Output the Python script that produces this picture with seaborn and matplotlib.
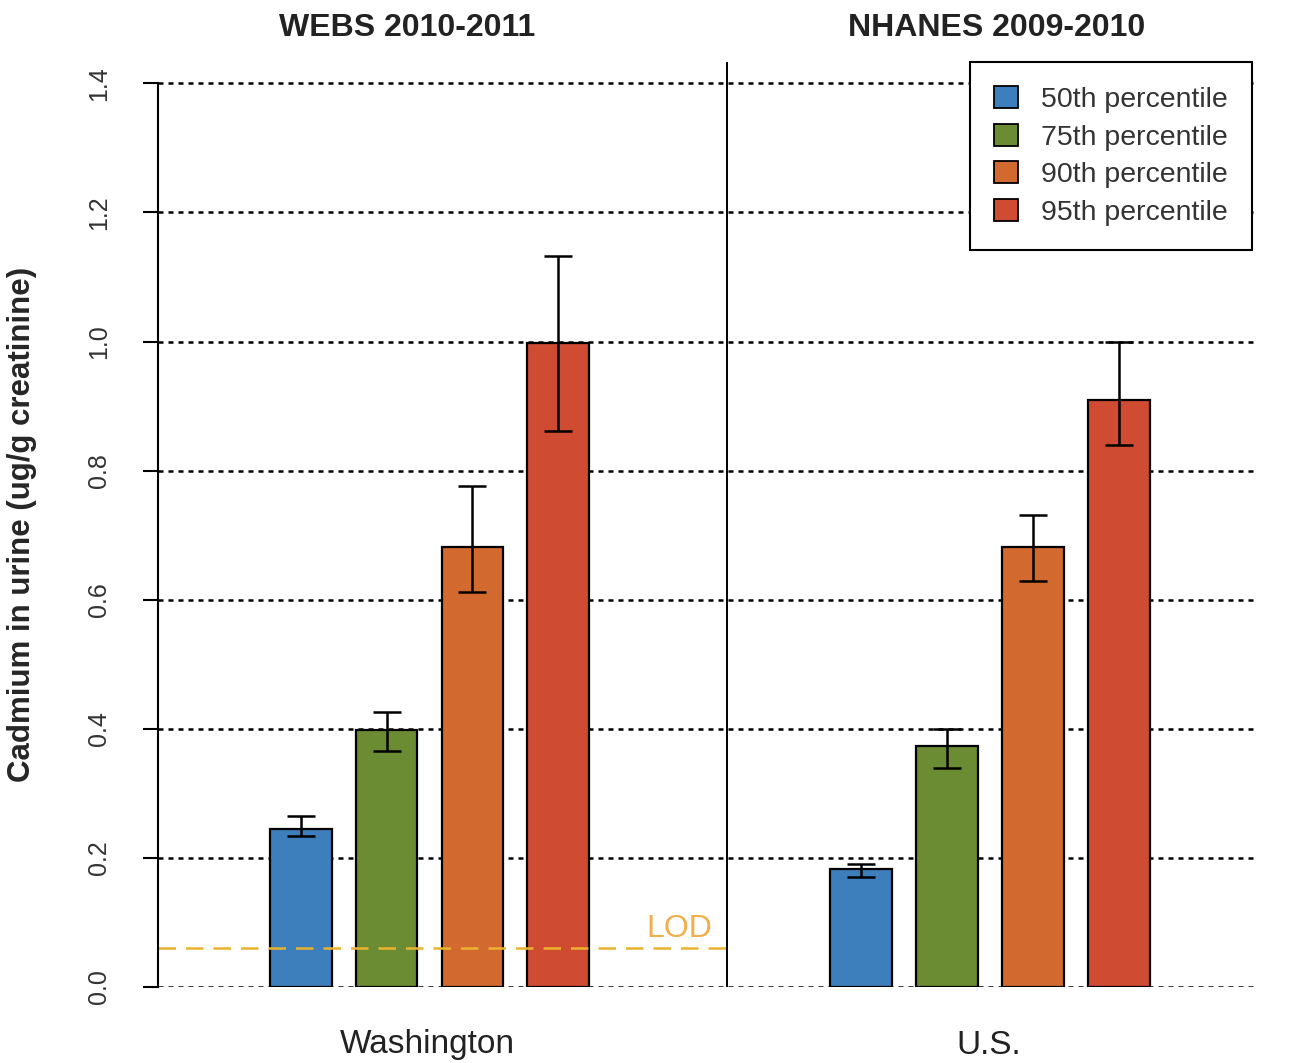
import matplotlib
matplotlib.use("Agg")
import matplotlib.pyplot as plt
import matplotlib.transforms as mtransforms
from matplotlib.patches import Patch
import seaborn as sns
import pandas as pd

# ---- data ----
regions = ["Washington", "U.S."]
panel_titles = ["WEBS 2010-2011", "NHANES 2009-2010"]
percentiles = ["50th percentile", "75th percentile", "90th percentile", "95th percentile"]
wa_values = [0.245, 0.398, 0.682, 0.997]
wa_lower = [0.234, 0.365, 0.612, 0.862]
wa_upper = [0.265, 0.426, 0.776, 1.132]
us_values = [0.183, 0.373, 0.682, 0.909]
us_lower = [0.170, 0.339, 0.629, 0.839]
us_upper = [0.190, 0.400, 0.731, 0.999]
lod_value = 0.06
yticks = [0.0, 0.2, 0.4, 0.6, 0.8, 1.0, 1.2, 1.4]
colors = ["#3D7EBC", "#6B8C33", "#D2692F", "#CF4B32"]

rows = []
for reg, vals, lo, hi in [(regions[0], wa_values, wa_lower, wa_upper),
                          (regions[1], us_values, us_lower, us_upper)]:
    for p, v, l, h in zip(percentiles, vals, lo, hi):
        rows.append({"region": reg, "percentile": p, "value": v, "lower": l, "upper": h})
df = pd.DataFrame(rows)

sns.set_style("white")
plt.rcParams["font.family"] = ["Liberation Sans", "DejaVu Sans"]

W, H = 1298, 1063
fig = plt.figure(figsize=(W / 100, H / 100), dpi=100)
left, right, top, bottom = 158, 1255, 62, 987
ax = fig.add_axes([left / W, (H - bottom) / H, (right - left) / W, (bottom - top) / H])

sns.barplot(data=df, x="region", y="value", hue="percentile", order=regions,
            hue_order=percentiles, palette=colors, width=0.612, gap=0.28,
            errorbar=None, edgecolor="black", linewidth=1.6, saturation=1,
            legend=False, ax=ax, zorder=2)

# error bars from the bar positions
bar_containers = list(ax.containers)
for hi_idx, cont in enumerate(bar_containers):
    for xi, bar in enumerate(cont):
        sub = df[(df.region == regions[xi]) & (df.percentile == percentiles[hi_idx])].iloc[0]
        cx = bar.get_x() + bar.get_width() / 2
        ax.errorbar([cx], [sub.value],
                    yerr=[[sub.value - sub.lower], [sub.upper - sub.value]],
                    fmt="none", ecolor="black", elinewidth=1.8, capsize=10,
                    capthick=1.8, zorder=3)

ax.set_ylim(0, 1.433)
ax.set_xlim(-0.4844, 1.4728)

for t in yticks:
    ax.axhline(t, color="black", linestyle=(0, (2, 2)), linewidth=1.8, zorder=1)

# divider between panels
ax.axvline(0.531, color="black", linewidth=1.4, zorder=1)

# LOD line
ax.plot([-0.4844, 0.531], [lod_value, lod_value], color="#EBB22E",
        linestyle=(0, (7, 4)), linewidth=1.8, zorder=2.5)
ax.text(0.504, lod_value + 0.006, "LOD", color="#F2AE4A", fontsize=23,
        ha="right", va="bottom")

# axes styling
for s in ["top", "right", "bottom"]:
    ax.spines[s].set_visible(False)
ax.spines["left"].set_bounds(0, 1.4)
ax.spines["left"].set_linewidth(1.5)
ax.spines["left"].set_color("black")
ax.set_yticks(yticks)
ax.set_yticklabels([f"{t:.1f}" for t in yticks], rotation=90, va="center",
                   fontsize=18, color="#333333")
ax.tick_params(axis="y", direction="out", length=11, width=1.5, color="black",
               left=True, pad=23)
ax.set_xticks([])
ax.set_xlabel("")
ax.set_ylabel("Cadmium in urine (ug/g creatinine)", fontsize=22.5,
              fontweight="bold")
ax.yaxis.set_label_coords(-0.110, 0.50)

# group labels below
trans = mtransforms.blended_transform_factory(ax.transData, fig.transFigure)
for i, reg in enumerate(regions):
    ax.text(i - 0.003, (H - 1045) / H, reg, transform=trans, ha="center",
            va="center", fontsize=24, color="#222222")
# panel titles
title_x = [-0.04, 1.0125]
for xt, t in zip(title_x, panel_titles):
    ax.text(xt, (H - 28) / H, t, transform=trans, ha="center", va="center",
            fontsize=23, fontweight="bold", color="#222222")

handles = [Patch(facecolor=c, edgecolor="black", linewidth=1.3) for c in colors]
leg = ax.legend(handles, percentiles, loc="upper right",
                bbox_to_anchor=(0.997, 1.0), borderaxespad=0, fontsize=20.5,
                frameon=True, fancybox=False, framealpha=1, edgecolor="black",
                handlelength=0.85, handleheight=0.8, handletextpad=0.8,
                labelspacing=0.38, borderpad=0.85)
leg.get_frame().set_linewidth(1.5)
for txt in leg.get_texts():
    txt.set_color("#333333")

fig.savefig("out.png", dpi=100)
